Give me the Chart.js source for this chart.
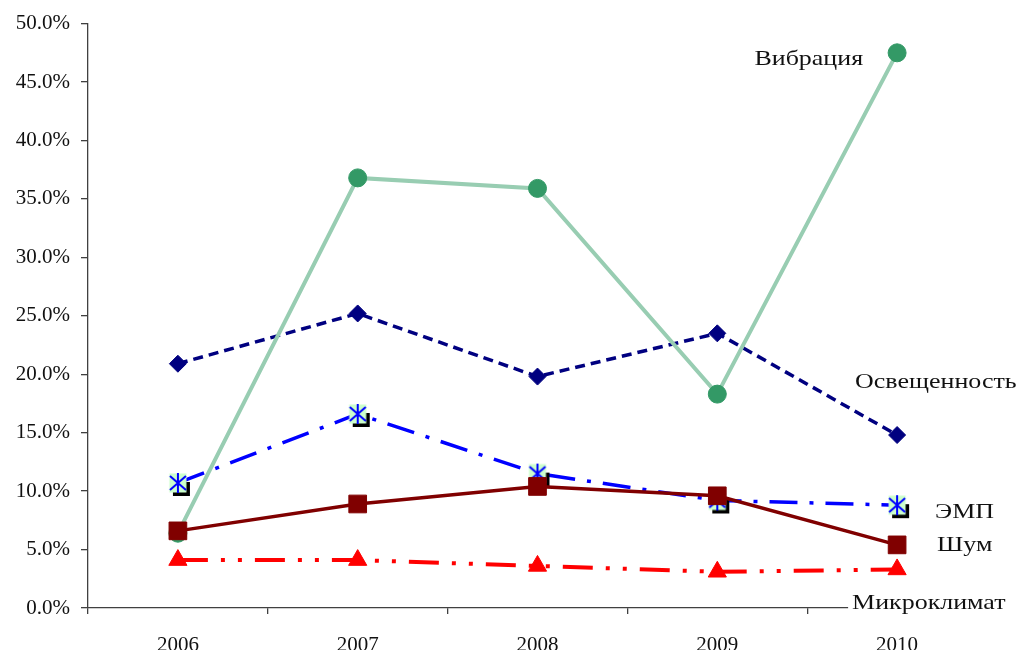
<!DOCTYPE html>
<html lang="ru">
<head>
<meta charset="utf-8">
<title>Факторы</title>
<script src="https://cdn.jsdelivr.net/npm/chart.js@4/dist/chart.umd.min.js"></script>
<style>
  html, body { margin: 0; padding: 0; background: #fff; }
  #wrap { width: 1018px; height: 650px; }
</style>
</head>
<body>
<div id="wrap"><canvas id="factorsChart" width="1018" height="650"></canvas></div>
<script>
const YEARS          = ["2006", "2007", "2008", "2009", "2010"];
const SERIES_NAMES   = ["Вибрация", "Освещенность", "ЭМП", "Шум", "Микроклимат"];
const vibration      = [6.4, 36.8, 35.9, 18.3, 47.5];
const lighting       = [20.9, 25.2, 19.8, 23.5, 14.8];
const emf            = [10.7, 16.6, 11.5, 9.2, 8.8];
const noise          = [6.6, 8.9, 10.4, 9.6, 5.4];
const microclimate   = [4.1, 4.1, 3.6, 3.1, 3.3];
const Y_MIN = 0, Y_MAX = 50, Y_STEP = 5;

const SERIF = "'Liberation Serif', 'Times New Roman', serif";

/* ── Маркер ЭМП: звёздочка на светло-зелёном квадрате с тенью ── */
function makeStarMarker() {
  const c = document.createElement("canvas");
  c.width = 30; c.height = 30;
  const g = c.getContext("2d");
  const cx = 15, cy = 15;
  g.fillStyle = "#000";
  g.fillRect(cx - 5, cy - 1, 17, 14);
  g.fillStyle = "#ccffcc";
  g.fillRect(cx - 8.5, cy - 9.5, 17, 19);
  g.strokeStyle = "#0000ff";
  g.lineWidth = 2;
  g.beginPath();
  g.moveTo(cx, cy - 10); g.lineTo(cx, cy + 10);
  g.moveTo(cx - 8, cy - 7); g.lineTo(cx + 8, cy + 7);
  g.moveTo(cx + 8, cy - 7); g.lineTo(cx - 8, cy + 7);
  g.stroke();
  return c;
}

/* ── Подписи рядов у последней точки ── */
const labelStyle = [
  { dx: -34, dy: 12.5, align: "right" },
  { dx: -42, dy: -47,  align: "left" },
  { dx: 38,  dy: 13,   align: "left" },
  { dx: 40,  dy: 6,    align: "left" },
  { dx: -45, dy: 40,   align: "left", fill: true },
];
const STRETCH = 1.18;

const seriesLabels = {
  id: "seriesLabels",
  afterDatasetsDraw(chart) {
    const ctx = chart.ctx;
    chart.data.datasets.forEach((ds, i) => {
      const meta = chart.getDatasetMeta(i);
      const pt = meta.data[meta.data.length - 1];
      const st = labelStyle[i];
      const x = pt.x + st.dx;
      const y = pt.y + st.dy;
      ctx.save();
      ctx.font = "22px " + SERIF;
      ctx.textBaseline = "alphabetic";
      const w = ctx.measureText(ds.label).width * STRETCH;
      const left = st.align === "right" ? x - w : x;
      if (st.fill) {
        ctx.fillStyle = "#fff";
        ctx.fillRect(left - 4, y - 18, w + 8, 24);
      }
      ctx.translate(left, y);
      ctx.scale(STRETCH, 1);
      ctx.fillStyle = "#111";
      ctx.textAlign = "left";
      ctx.fillText(ds.label, 0, 0);
      ctx.restore();
    });
  }
};

const ctx = document.getElementById("factorsChart").getContext("2d");
new Chart(ctx, {
  type: "line",
  data: {
    labels: YEARS,
    datasets: [
      {
        label: SERIES_NAMES[0],
        data: vibration,
        borderColor: "#98cdb2",
        borderWidth: 4,
        pointStyle: "circle",
        pointRadius: 9,
        pointBackgroundColor: "#339966",
        pointBorderColor: "#339966",
        pointBorderWidth: 1,
        order: 1,
      },
      {
        label: SERIES_NAMES[1],
        data: lighting,
        borderColor: "#000080",
        borderWidth: 3.5,
        borderDash: [10, 6],
        pointStyle: "rectRot",
        pointRadius: 8.5,
        pointBackgroundColor: "#000080",
        pointBorderColor: "#000080",
        pointBorderWidth: 1,
        order: 3,
      },
      {
        label: SERIES_NAMES[2],
        data: emf,
        borderColor: "#0000ff",
        borderWidth: 3.5,
        borderDash: [28, 12, 4, 12],
        pointStyle: makeStarMarker(),
        pointRadius: 12,
        order: 2,
      },
      {
        label: SERIES_NAMES[3],
        data: noise,
        borderColor: "#800000",
        borderWidth: 3.5,
        pointStyle: "rect",
        pointRadius: 12.5,
        pointBackgroundColor: "#800000",
        pointBorderColor: "#800000",
        pointBorderWidth: 1,
        order: 0,
      },
      {
        label: SERIES_NAMES[4],
        data: microclimate,
        borderColor: "#ff0000",
        borderWidth: 4,
        borderDash: [30, 13, 4, 13, 4, 13],
        pointStyle: "triangle",
        pointRadius: 10.5,
        pointBackgroundColor: "#ff0000",
        pointBorderColor: "#ff0000",
        pointBorderWidth: 1,
        order: 4,
      },
    ]
  },
  options: {
    responsive: false,
    animation: false,
    devicePixelRatio: 1,
    layout: { padding: { top: 22, right: 31, left: 0, bottom: 0 } },
    elements: { line: { tension: 0, fill: false } },
    plugins: {
      legend: { display: false },
      tooltip: { enabled: false },
    },
    scales: {
      x: {
        offset: true,
        grid: {
          offset: true,
          drawOnChartArea: false,
          drawTicks: true,
          tickLength: 6,
          color: "#404040",
          lineWidth: 1.3,
        },
        border: { color: "#404040", width: 1.3 },
        ticks: {
          color: "#111",
          font: { family: SERIF, size: 21 },
          padding: 19,
          maxRotation: 0,
        },
        afterFit: s => { s.height = 42; },
      },
      y: {
        min: Y_MIN,
        max: Y_MAX,
        grid: {
          drawOnChartArea: false,
          drawTicks: true,
          tickLength: 7,
          color: "#404040",
          lineWidth: 1.3,
        },
        border: { color: "#404040", width: 1.3 },
        ticks: {
          stepSize: Y_STEP,
          color: "#111",
          font: { family: SERIF, size: 21 },
          padding: 11,
          callback: v => v.toFixed(1) + "%",
        },
        afterFit: s => { s.width = 88; },
      }
    }
  },
  plugins: [seriesLabels]
});
</script>
</body>
</html>
